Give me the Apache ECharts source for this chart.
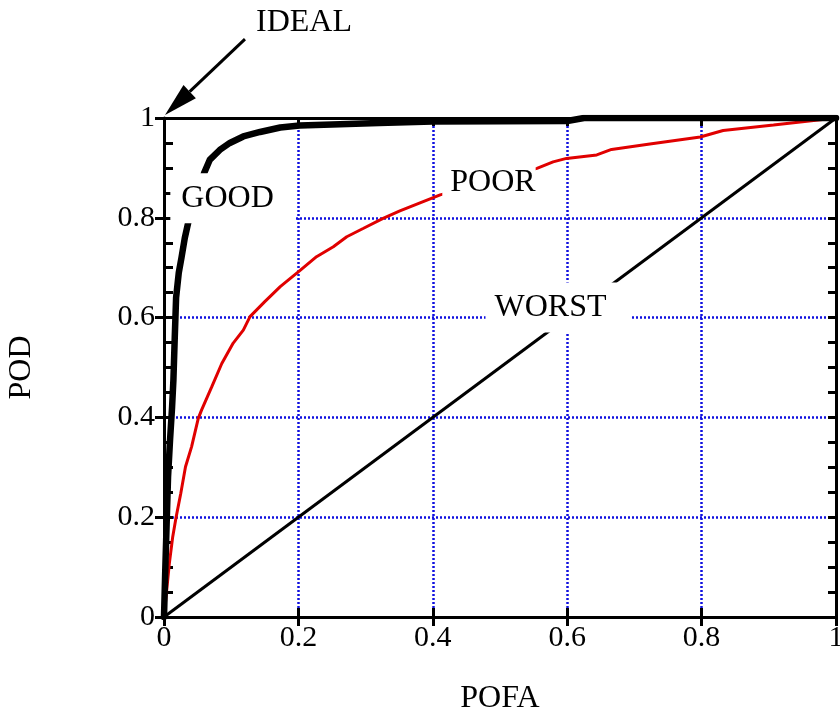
<!DOCTYPE html>
<html>
<head>
<meta charset="utf-8">
<script src="https://cdn.jsdelivr.net/npm/echarts@6/dist/echarts.min.js"></script>
<style>
  html, body { margin: 0; padding: 0; background: #fff; }
  #container { width: 840px; height: 711px; }
</style>
</head>
<body>
<div id="container"></div>
<script>
var dom = document.getElementById("container");
var myChart = echarts.init(dom);

// ROC curves: [POFA, POD]
var goodCurve = [
  [0, 0], [0.002, 0.1], [0.004, 0.19], [0.006, 0.28], [0.009, 0.355], [0.012, 0.42],
  [0.014, 0.475], [0.016, 0.56], [0.018, 0.64], [0.022, 0.69], [0.026, 0.72],
  [0.031, 0.76], [0.036, 0.79], [0.048, 0.84], [0.0595, 0.889], [0.068, 0.916],
  [0.083, 0.936], [0.098, 0.95], [0.118, 0.963], [0.143, 0.972], [0.173, 0.981],
  [0.202, 0.985], [0.25, 0.987], [0.32, 0.99], [0.4, 0.993], [0.6, 0.994],
  [0.625, 1], [1, 1]
];
var poorCurve = [
  [0, 0], [0.003, 0.04], [0.008, 0.108], [0.013, 0.161], [0.018, 0.2], [0.025, 0.248],
  [0.032, 0.301], [0.041, 0.341], [0.051, 0.398], [0.056, 0.415], [0.071, 0.461],
  [0.086, 0.508], [0.103, 0.549], [0.118, 0.575], [0.128, 0.602], [0.15, 0.632],
  [0.173, 0.662], [0.203, 0.695], [0.227, 0.722], [0.252, 0.742], [0.272, 0.762],
  [0.297, 0.779], [0.326, 0.799], [0.351, 0.814], [0.381, 0.83], [0.411, 0.846],
  [0.555, 0.899], [0.579, 0.912], [0.599, 0.919], [0.644, 0.926], [0.666, 0.937],
  [0.723, 0.948], [0.798, 0.962], [0.832, 0.975], [0.907, 0.986], [1, 1]
];
var worstCurve = [[0, 0], [1, 1]];

// annotations: [x, y, text]
var curveNotes = [
  [0.102, 0.839, 'GOOD'],
  [0.4836, 0.8697, 'POOR'],
  [0.5863, 0.6202, 'WORST']
];
var notePadding = {
  GOOD: [9, 21, 9, 11],
  POOR: [11, 0, 11, 8],
  WORST: [9, 24, 9, 9]
};
var idealArrow = [[0.1205, 1.158], [0.0015, 1.006]];

var FONT = 'Liberation Serif';
var axisColor = '#000';

function baseAxis(extra) {
  var a = {
    type: 'value', min: 0, max: 1, interval: 0.2,
    axisLine: { show: false, lineStyle: { color: axisColor, width: 3 } },
    axisTick: { show: true, lineStyle: { color: axisColor, width: 3 } },
    axisLabel: { show: false },
    splitLine: { show: false }
  };
  return Object.assign(a, extra);
}

var gridLine = {
  show: true,
  showMinLine: false,
  showMaxLine: false,
  lineStyle: { color: '#1010e0', width: 2.5, type: [2, 2] }
};

var option = {
  animation: false,
  backgroundColor: '#fff',
  textStyle: { fontFamily: FONT },
  title: {
    text: 'IDEAL', left: 251, top: 2,
    textStyle: { fontFamily: FONT, fontSize: 32, fontWeight: 'normal', color: '#000' }
  },
  grid: { left: 164, right: 4, top: 118, bottom: 94, containLabel: false, outerBoundsMode: 'none' },
  xAxis: [
    baseAxis({
      position: 'bottom',
      axisLine: { show: true, onZero: false, lineStyle: { color: axisColor, width: 3 } },
      axisTick: { show: true, inside: false, length: 9, lineStyle: { color: axisColor, width: 3 } },
      axisLabel: { show: true, margin: 6, fontFamily: FONT, fontSize: 30, color: '#000' },
      splitLine: gridLine,
      name: 'POFA', nameLocation: 'middle', nameGap: 66,
      nameTextStyle: { fontFamily: FONT, fontSize: 32, color: '#000' }
    }),
    baseAxis({
      position: 'bottom',
      axisTick: { show: true, inside: true, length: 9, lineStyle: { color: axisColor, width: 3 } }
    }),
    baseAxis({
      position: 'top',
      axisLine: { show: true, onZero: false, lineStyle: { color: axisColor, width: 3 } },
      axisTick: { show: true, inside: true, length: 8, lineStyle: { color: axisColor, width: 3 } }
    }),
    baseAxis({
      position: 'top',
      axisTick: { show: true, inside: false, length: 5, lineStyle: { color: axisColor, width: 3 } }
    })
  ],
  yAxis: [
    baseAxis({
      position: 'left',
      axisLine: { show: true, onZero: false, lineStyle: { color: axisColor, width: 3 } },
      axisTick: { show: true, inside: false, length: 9, lineStyle: { color: axisColor, width: 3 } },
      axisLabel: { show: true, margin: 9, fontFamily: FONT, fontSize: 30, color: '#000' },
      splitLine: gridLine,
      name: 'POD', nameLocation: 'middle', nameGap: 126,
      nameTextStyle: { fontFamily: FONT, fontSize: 32, color: '#000' }
    }),
    baseAxis({
      position: 'left',
      axisTick: { show: true, inside: true, length: 9, lineStyle: { color: axisColor, width: 3 } },
      minorTick: { show: true, splitNumber: 4, length: 9, lineStyle: { color: axisColor, width: 3 } }
    }),
    baseAxis({
      position: 'right',
      axisLine: { show: true, onZero: false, lineStyle: { color: axisColor, width: 3 } },
      axisTick: { show: true, inside: true, length: 8, lineStyle: { color: axisColor, width: 3 } },
      minorTick: { show: true, splitNumber: 4, length: 8, lineStyle: { color: axisColor, width: 3 } }
    }),
    baseAxis({
      position: 'right',
      axisTick: { show: true, inside: false, length: 4, lineStyle: { color: axisColor, width: 3 } }
    })
  ],
  series: [
    {
      name: 'WORST', type: 'line', data: worstCurve, showSymbol: false, z: 3,
      lineStyle: { color: '#000', width: 3 }
    },
    {
      name: 'POOR', type: 'line', data: poorCurve, showSymbol: false, z: 4,
      lineStyle: { color: '#e00000', width: 3 }
    },
    {
      name: 'GOOD', type: 'line', data: goodCurve, showSymbol: false, z: 5,
      lineStyle: { color: '#000', width: 6.5, join: 'round', cap: 'round' }
    },
    {
      name: 'notes', type: 'scatter', z: 20, symbolSize: 0,
      itemStyle: { opacity: 1 },
      data: curveNotes.map(function (n) { return { value: [n[0], n[1]], name: n[2] }; }),
      label: {
        show: true, position: 'inside', opacity: 1,
        formatter: function (p) { return p.name; },
        fontFamily: FONT, fontSize: 32, color: '#000',
        backgroundColor: '#fff'
      }
    },
    {
      name: 'ideal', type: 'custom', z: 21, clip: false,
      data: [idealArrow[0].concat(idealArrow[1])],
      renderItem: function (params, api) {
        var s = api.coord([api.value(0), api.value(1)]);
        var t = api.coord([api.value(2), api.value(3)]);
        var dx = t[0] - s[0], dy = t[1] - s[1];
        var len = Math.sqrt(dx * dx + dy * dy);
        var ux = dx / len, uy = dy / len;
        var hl = 34, hw = 9;
        var bx = t[0] - ux * hl, by = t[1] - uy * hl;
        return {
          type: 'group',
          children: [
            { type: 'line', shape: { x1: s[0], y1: s[1], x2: bx, y2: by },
              style: { stroke: '#000', lineWidth: 3 } },
            { type: 'polygon',
              shape: { points: [[t[0], t[1]], [bx - uy * hw, by + ux * hw], [bx + uy * hw, by - ux * hw]] },
              style: { fill: '#000' } }
          ]
        };
      }
    }
  ]
};

// per-note padding so each white box sits like in the picture
option.series[3].data.forEach(function (d) {
  d.label = { padding: notePadding[d.name] };
});

myChart.setOption(option);
</script>
</body>
</html>
